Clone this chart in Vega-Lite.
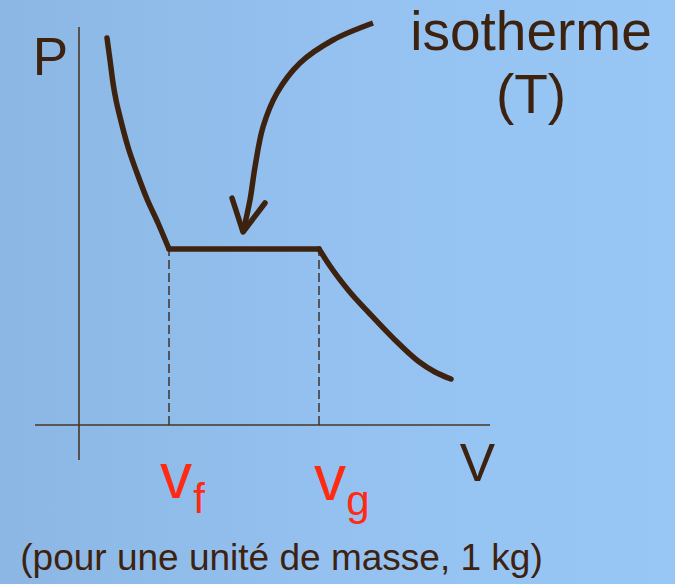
{
  "$schema": "https://vega.github.io/schema/vega-lite/v6.json",
  "width": 675,
  "height": 584,
  "autosize": {"type": "none"},
  "padding": 0,
  "background": "#92bfee",
  "config": {
    "view": {
      "stroke": null,
      "fill": {"gradient": "linear", "x1": 0, "x2": 1, "y1": 0, "y2": 0,
        "stops": [{"offset": 0, "color": "#8cb7e4"}, {"offset": 0.5, "color": "#94c1f0"}, {"offset": 1, "color": "#98c7f6"}]}
    }
  },
  "datasets": {
    "axes": [
      {"axis": "V", "V": -4.4, "P": 0, "V2": 41.1, "P2": 0},
      {"axis": "P", "V": 0, "P": -3.5, "V2": 0, "P2": 39.8}
    ],
    "dashes": [
      {"name": "vf", "V": 9.0, "P": 0, "P2": 17.6},
      {"name": "vg", "V": 24.0, "P": 0, "P2": 17.6}
    ],
    "isotherm": [
      {"seg": "liquide", "i": 1, "V": 2.8, "P": 38.7},
      {"seg": "liquide", "i": 2, "V": 3.1, "P": 36.5},
      {"seg": "liquide", "i": 3, "V": 3.4, "P": 34.2},
      {"seg": "liquide", "i": 4, "V": 3.7, "P": 32.5},
      {"seg": "liquide", "i": 5, "V": 4.1, "P": 30.8},
      {"seg": "liquide", "i": 6, "V": 4.9, "P": 27.8},
      {"seg": "liquide", "i": 7, "V": 5.8, "P": 25.2},
      {"seg": "liquide", "i": 8, "V": 6.8, "P": 22.6},
      {"seg": "liquide", "i": 9, "V": 7.9, "P": 20.2},
      {"seg": "liquide", "i": 10, "V": 9.0, "P": 17.6},
      {"seg": "palier", "i": 10, "V": 9.0, "P": 17.6},
      {"seg": "palier", "i": 11, "V": 24.0, "P": 17.6},
      {"seg": "vapeur", "i": 11, "V": 24.0, "P": 17.6},
      {"seg": "vapeur", "i": 12, "V": 25.1, "P": 15.9},
      {"seg": "vapeur", "i": 13, "V": 27.0, "P": 13.4},
      {"seg": "vapeur", "i": 14, "V": 29.1, "P": 11.1},
      {"seg": "vapeur", "i": 15, "V": 31.6, "P": 8.5},
      {"seg": "vapeur", "i": 16, "V": 33.9, "P": 6.4},
      {"seg": "vapeur", "i": 17, "V": 35.6, "P": 5.3},
      {"seg": "vapeur", "i": 18, "V": 37.2, "P": 4.6}
    ],
    "arrow": [
      {"i": 1, "V": 29.4, "P": 40.2},
      {"i": 2, "V": 25.4, "P": 38.5},
      {"i": 3, "V": 22.1, "P": 36.2},
      {"i": 4, "V": 19.8, "P": 33.2},
      {"i": 5, "V": 18.4, "P": 29.8},
      {"i": 6, "V": 17.6, "P": 25.8},
      {"i": 7, "V": 17.1, "P": 22.5},
      {"i": 8, "V": 16.4, "P": 19.3}
    ],
    "head": [
      {"i": 1, "V": 15.3, "P": 22.7},
      {"i": 2, "V": 16.4, "P": 19.3},
      {"i": 3, "V": 18.6, "P": 22.2}
    ],
    "labels": [
      {"group": "axis", "text": "P", "V": -2.85, "P": 35.0},
      {"group": "axis", "text": "V", "V": 39.85, "P": -5.6},
      {"group": "title", "text": "isotherme", "V": 45.2, "P": 37.5},
      {"group": "title", "text": "(T)", "V": 45.2, "P": 31.2},
      {"group": "red", "text": "v", "V": 9.7, "P": -7.3},
      {"group": "red", "text": "v", "V": 25.1, "P": -7.5},
      {"group": "sub", "text": "f", "V": 12.0, "P": -8.8},
      {"group": "sub", "text": "g", "V": 27.9, "P": -9.0},
      {"group": "note", "text": "(pour une unité de masse, 1 kg)", "V": 20.25, "P": -14.5}
    ]
  },
  "encoding": {
    "x": {"field": "V", "type": "quantitative", "scale": {"domain": [-7.9, 59.6], "nice": false, "zero": false}, "axis": null},
    "y": {"field": "P", "type": "quantitative", "scale": {"domain": [-15.9, 42.5], "nice": false, "zero": false}, "axis": null}
  },
  "layer": [
    {
      "data": {"name": "axes"},
      "mark": {"type": "rule", "color": "#4a3626", "strokeWidth": 1.6},
      "encoding": {
        "x2": {"field": "V2"},
        "y2": {"field": "P2"}
      }
    },
    {
      "data": {"name": "dashes"},
      "mark": {"type": "rule", "color": "#3a2a20", "strokeWidth": 1.4, "strokeDash": [9, 4]},
      "encoding": {
        "y2": {"field": "P2"}
      }
    },
    {
      "data": {"name": "isotherm"},
      "mark": {"type": "line", "color": "#3e2210", "strokeWidth": 5.5, "strokeCap": "round", "interpolate": "monotone"},
      "encoding": {
        "detail": {"field": "seg", "type": "nominal"},
        "order": {"field": "i", "type": "quantitative"}
      }
    },
    {
      "data": {"name": "arrow"},
      "mark": {"type": "line", "color": "#3e2210", "strokeWidth": 5.5, "strokeCap": "butt", "interpolate": "catmull-rom"},
      "encoding": {"order": {"field": "i", "type": "quantitative"}}
    },
    {
      "data": {"name": "head"},
      "mark": {"type": "line", "color": "#3e2210", "strokeWidth": 5.5, "strokeCap": "round", "strokeJoin": "round", "interpolate": "linear"},
      "encoding": {"order": {"field": "i", "type": "quantitative"}}
    },
    {
      "data": {"name": "labels"},
      "transform": [{"filter": "datum.group === 'axis'"}],
      "mark": {"type": "text", "font": "Liberation Sans", "fontSize": 53, "color": "#3e2210", "align": "center", "baseline": "alphabetic"},
      "encoding": {"text": {"field": "text"}}
    },
    {
      "data": {"name": "labels"},
      "transform": [{"filter": "datum.group === 'title'"}],
      "mark": {"type": "text", "font": "Liberation Sans", "fontSize": 55, "color": "#3e2210", "align": "center", "baseline": "alphabetic"},
      "encoding": {"text": {"field": "text"}}
    },
    {
      "data": {"name": "labels"},
      "transform": [{"filter": "datum.group === 'red'"}],
      "mark": {"type": "text", "font": "Liberation Sans", "fontSize": 64, "color": "#ff2a12", "align": "center", "baseline": "alphabetic"},
      "encoding": {"text": {"field": "text"}}
    },
    {
      "data": {"name": "labels"},
      "transform": [{"filter": "datum.group === 'sub'"}],
      "mark": {"type": "text", "font": "Liberation Sans", "fontSize": 42, "color": "#ff2a12", "align": "center", "baseline": "alphabetic"},
      "encoding": {"text": {"field": "text"}}
    },
    {
      "data": {"name": "labels"},
      "transform": [{"filter": "datum.group === 'note'"}],
      "mark": {"type": "text", "font": "Liberation Sans", "fontSize": 37, "color": "#3e2210", "align": "center", "baseline": "alphabetic"},
      "encoding": {"text": {"field": "text"}}
    }
  ]
}
